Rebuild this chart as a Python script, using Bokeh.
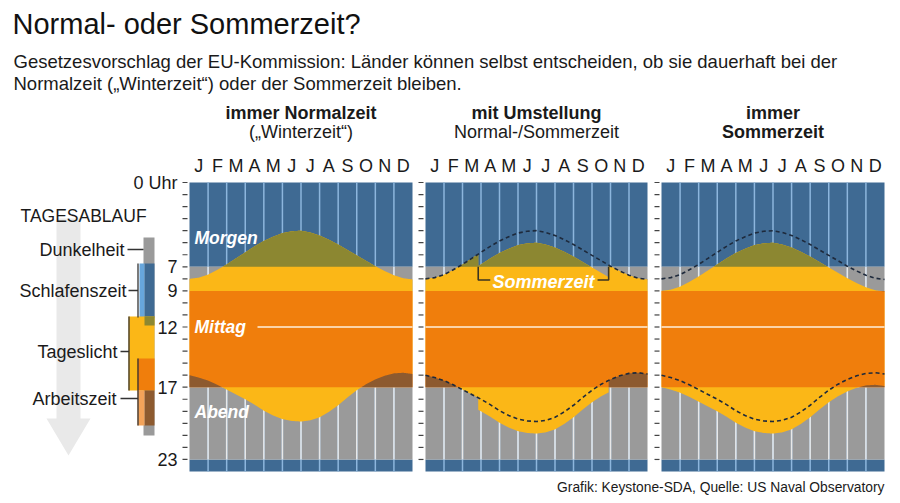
import numpy as np
from bokeh.plotting import figure
from bokeh.models import Range1d
from bokeh.core.properties import value
from bokeh.embed import file_html
from bokeh.resources import INLINE

# ---------------- data ----------------
MONTHS = ["J", "F", "M", "A", "M", "J", "J", "A", "S", "O", "N", "D"]
MONTH_CENTERS = [0.5, 1.5, 2.5, 3.5, 4.5, 5.5, 6.5, 7.5, 8.5, 9.5, 10.5, 11.5]
MONTH_EDGES = [1, 2, 3, 4, 5, 6, 7, 8, 9, 10, 11]
# half-month positions (0 = 1 Jan, 12 = 31 Dec)
MONTH_POS = [0, 0.5, 1, 1.5, 2, 2.5, 3, 3.5, 4, 4.5, 5, 5.5, 6,
             6.5, 7, 7.5, 8, 8.5, 9, 9.5, 10, 10.5, 11, 11.5, 12]
# sunrise / sunset in normal time (hours)
SUNRISE = [8.0, 7.9, 7.65, 7.25, 6.8, 6.3, 5.8, 5.3, 4.85, 4.5, 4.2, 4.05, 4.0,
           4.15, 4.4, 4.75, 5.15, 5.6, 6.05, 6.5, 6.95, 7.35, 7.7, 7.95, 8.05]
SUNSET = [16.0, 16.2, 16.45, 16.8, 17.2, 17.6, 18.0, 18.45, 18.95, 19.35, 19.65, 19.8, 19.85,
          19.75, 19.5, 19.05, 18.5, 17.85, 17.25, 16.75, 16.35, 16.05, 15.85, 15.8, 15.9]
DST_START = 2.85   # end of March
DST_END = 9.9      # end of October
SLEEP_END, WORK_START, WORK_END, SLEEP_START = 7, 9, 17, 23
HOURS = list(range(24))
LABEL_HOURS = [0, 7, 9, 12, 17, 23]
LABEL_TEXT = ["0 Uhr", "7", "9", "12", "17", "23"]
HEAD1 = ["immer Normalzeit", "mit Umstellung", "immer"]
HEAD2 = ["(\u201eWinterzeit\u201c)", "Normal-/Sommerzeit", "Sommerzeit"]
HEAD2_BOLD = [False, False, True]
SHIFT_MODE = ["none", "dst", "always"]

TITLE = "Normal- oder Sommerzeit?"
SUB1 = "Gesetzesvorschlag der EU-Kommission: L\u00e4nder k\u00f6nnen selbst entscheiden, ob sie dauerhaft bei der"
SUB2 = "Normalzeit (\u201eWinterzeit\u201c) oder der Sommerzeit bleiben."
FOOTER = "Grafik: Keystone-SDA, Quelle: US Naval Observatory"

# ---------------- style ----------------
BLUE = "#3f6a93"
BLUE_LINE = "#8db6dd"
GRAY = "#9a9a9a"
GRAY_LINE = "#e8e8e8"
YELLOW = "#fbb717"
ORANGE = "#f07e0c"
OLIVE = "#8c8731"
BROWN = "#8d5a2f"
NOON = "#fff0dc"
DASH = "#1e2a3c"
INK = "#1a1a1a"
FONT = value("Liberation Sans")

W, H = 892, 495
OX, OY = 0, 0

p = figure(width=W, height=H, x_range=Range1d(OX, OX + W), y_range=Range1d(OY + H, OY),
           output_backend="svg", toolbar_location=None, min_border=0,
           x_axis_location=None, y_axis_location=None)
p.xgrid.visible = False
p.ygrid.visible = False
p.outline_line_color = None
p.background_fill_color = "white"
p.border_fill_color = "white"

PANEL_TOP, PANEL_BOTTOM = 182, 471
PANEL_X = [(189, 412), (425, 647), (661, 884)]
span_h = 24 * H / (PANEL_BOTTOM - PANEL_TOP)
htop = -(PANEL_TOP - OY) * 24 / (PANEL_BOTTOM - PANEL_TOP)
p.extra_y_ranges = {"h": Range1d(start=htop + span_h, end=htop)}
xr = {}
for i, (L, R) in enumerate(PANEL_X):
    s = -(L - OX) * 12 / (R - L)
    xr[f"p{i}"] = Range1d(start=s, end=s + 12 * W / (R - L))
p.extra_x_ranges = xr


def txt(x, y, t, size="18px", style="normal", color=INK, align="left", **kw):
    p.text(x=[x], y=[y], text=[t], text_font=FONT, text_font_size=value(size),
           text_font_style=style, text_color=color, text_align=align,
           text_baseline="middle", **kw)


# drawing grid for the filled curves (with vertical steps at the DST changes)
base = np.linspace(0, 12, 1201)
base = base[(np.abs(base - DST_START) > 1e-9) & (np.abs(base - DST_END) > 1e-9)]
xs = np.concatenate([base, [DST_START, DST_START, DST_END, DST_END]])
flag = np.concatenate([((base > DST_START) & (base < DST_END)).astype(float), [0, 1, 1, 0]])
order = np.argsort(xs, kind="stable")
xs = xs[order]
flag = flag[order]
rise_f = np.interp(xs, MONTH_POS, SUNRISE)
set_f = np.interp(xs, MONTH_POS, SUNSET)

for i in range(3):
    name = f"p{i}"
    kw = dict(x_range_name=name, y_range_name="h")
    if SHIFT_MODE[i] == "none":
        shift = 0.0
    elif SHIFT_MODE[i] == "dst":
        shift = flag
    else:
        shift = 1.0
    rise = rise_f + shift
    sset = set_f + shift
    n = len(xs)
    p.quad(left=[0, 0], right=[12, 12], top=[0, SLEEP_START], bottom=[SLEEP_END, 24],
           fill_color=BLUE, line_color=None, **kw)
    p.quad(left=[0, 0], right=[12, 12], top=[SLEEP_END, WORK_END], bottom=[WORK_START, SLEEP_START],
           fill_color=GRAY, line_color=None, **kw)
    p.segment(x0=MONTH_EDGES, x1=MONTH_EDGES, y0=[0] * 11, y1=[24] * 11,
              line_color=BLUE_LINE, line_width=1.5, **kw)
    p.segment(x0=MONTH_EDGES, x1=MONTH_EDGES, y0=[SLEEP_END] * 11, y1=[SLEEP_START] * 11,
              line_color=GRAY_LINE, line_width=1.5, **kw)
    p.varea(x=xs, y1=rise, y2=sset, fill_color=YELLOW, **kw)
    p.varea(x=xs, y1=np.minimum(rise, SLEEP_END), y2=np.full(n, SLEEP_END), fill_color=OLIVE, **kw)
    p.quad(left=[0], right=[12], top=[WORK_START], bottom=[WORK_END],
           fill_color=ORANGE, line_color=None, **kw)
    p.varea(x=xs, y1=np.minimum(sset, WORK_END), y2=np.full(n, WORK_END), fill_color=BROWN, **kw)
    p.varea(x=xs, y1=np.full(n, WORK_START), y2=np.maximum(rise, WORK_START), fill_color=BROWN, **kw)
    noon_from = 3.66 if i == 0 else 0
    p.segment(x0=[noon_from], x1=[12], y0=[12], y1=[12], line_color=NOON, line_width=1.6, **kw)
    if i > 0:
        p.line(MONTH_POS, SUNRISE, line_color=DASH, line_width=1.6, line_dash="4 3", **kw)
        p.line(MONTH_POS, SUNSET, line_color=DASH, line_width=1.6, line_dash="4 3", **kw)
    # hour ticks
    L = PANEL_X[i][0]
    p.segment(x0=[L - 7] * len(HOURS), x1=[L - 2] * len(HOURS), y0=HOURS, y1=HOURS,
              line_color="#444444", line_width=1.2, y_range_name="h")
    # month letters
    p.text(x=MONTH_CENTERS, y=[165] * 12, text=MONTHS, text_font=FONT,
           text_font_size=value("18px"), text_color=INK, text_align="center",
           text_baseline="middle", x_range_name=name)
    # headers
    txt(6, 112, HEAD1[i], size="18px", style="bold", align="center", x_range_name=name)
    txt(6, 131, HEAD2[i], size="18px", style="bold" if HEAD2_BOLD[i] else "normal",
        align="center", x_range_name=name)

# hour labels
p.text(x=[177] * len(LABEL_HOURS), y=LABEL_HOURS, text=LABEL_TEXT, text_font=FONT,
       text_font_size=value("18px"), text_color=INK, text_align="right",
       text_baseline="middle", y_range_name="h")

# labels inside panel 1
k1 = dict(x_range_name="p0", y_range_name="h")
txt(0.27, 4.6, "Morgen", size="17.5px", style="bold italic", color="white", **k1)
txt(0.27, 12, "Mittag", size="17.5px", style="bold italic", color="white", **k1)
txt(0.27, 19.1, "Abend", size="17.5px", style="bold italic", color="white", **k1)

# Sommerzeit bracket in panel 2
k2 = dict(x_range_name="p1", y_range_name="h")
p.multi_line(xs=[[DST_START, DST_START, DST_START + 0.65], [DST_END - 0.6, DST_END, DST_END]],
             ys=[[SLEEP_END, 8.1, 8.1], [8.1, 8.1, SLEEP_END]], line_color="#3b3521", line_width=1.6, **k2)
txt((DST_START + DST_END) / 2, 8.25, "Sommerzeit", size="18px", style="bold italic",
    color="white", align="center", **k2)

# ---------------- legend (Tagesablauf) ----------------
p.patch(x=[56, 80, 80, 90, 68, 46, 56], y=[218, 218, 418, 418, 455, 418, 418],
        fill_color="#e9e9e9", line_color=None)
p.quad(left=[143], right=[154], top=[237], bottom=[435], fill_color=GRAY, line_color=None)
p.quad(left=[144], right=[154], top=[263], bottom=[317], fill_color=BLUE, line_color=None)
p.quad(left=[139], right=[144], top=[263], bottom=[317], fill_color="#67a6dc", line_color=None)
p.quad(left=[128], right=[154], top=[316], bottom=[390], fill_color=YELLOW, line_color=None)
p.quad(left=[144], right=[154], top=[316], bottom=[325], fill_color=OLIVE, line_color=None)
p.quad(left=[137], right=[154], top=[358], bottom=[390], fill_color=ORANGE, line_color=None)
p.quad(left=[144], right=[154], top=[390], bottom=[425], fill_color=BROWN, line_color=None)
p.quad(left=[137], right=[144], top=[390], bottom=[425], fill_color="#f3a35a", line_color=None)
p.multi_line(xs=[[127, 143], [128, 137.5], [137.5, 137.5], [120, 128.5], [128.5, 128.5],
                 [120, 137.5], [137.5, 137.5]],
             ys=[[249, 249], [290, 290], [263, 317], [351, 351], [316, 390],
                 [398, 398], [358, 425]],
             line_color="#333333", line_width=1.3)
txt(20, 215, "TAGESABLAUF", size="17.5px")
txt(124, 249, "Dunkelheit", align="right")
txt(126, 290, "Schlafenszeit", align="right")
txt(117, 351, "Tageslicht", align="right")
txt(116, 398, "Arbeitszeit", align="right")

# ---------------- titles ----------------
txt(12, 23, TITLE, size="29px", color="#111111")
txt(13, 61, SUB1, size="18.5px")
txt(13, 83, SUB2, size="18.5px")
txt(884, 487, FOOTER, size="13.8px", align="right")

open("out.html", "w").write(file_html(p, INLINE))
